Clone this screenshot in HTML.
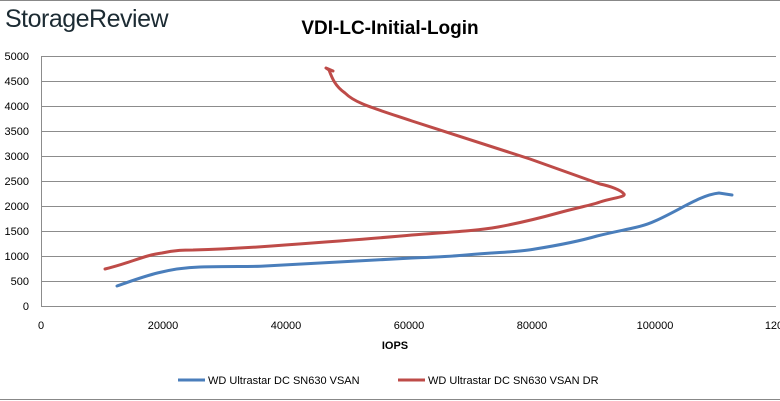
<!DOCTYPE html>
<html><head><style>
body{margin:0;background:#fff;}
svg{display:block;font-family:"Liberation Sans",sans-serif;}
</style></head><body>
<svg width="780" height="401" viewBox="0 0 780 401">
<rect x="0" y="0" width="780" height="401" fill="#fff"/>
<line x1="0" y1="0.5" x2="780" y2="0.5" stroke="#888"/>
<line x1="0" y1="399.5" x2="780" y2="399.5" stroke="#888"/>
<text x="5" y="27" font-size="25" fill="#1c2b33" letter-spacing="-0.5">StorageReview</text>
<text x="390" y="34" font-size="19" font-weight="bold" text-anchor="middle" fill="#000">VDI-LC-Initial-Login</text>
<g stroke="#8c8c8c" stroke-width="1">
<line x1="41" y1="56.5" x2="776" y2="56.5"/>
<line x1="41" y1="81.5" x2="776" y2="81.5"/>
<line x1="41" y1="106.5" x2="776" y2="106.5"/>
<line x1="41" y1="131.5" x2="776" y2="131.5"/>
<line x1="41" y1="156.5" x2="776" y2="156.5"/>
<line x1="41" y1="181.5" x2="776" y2="181.5"/>
<line x1="41" y1="206.5" x2="776" y2="206.5"/>
<line x1="41" y1="231.5" x2="776" y2="231.5"/>
<line x1="41" y1="256.5" x2="776" y2="256.5"/>
<line x1="41" y1="281.5" x2="776" y2="281.5"/>
<line x1="41" y1="306.5" x2="776" y2="306.5"/>
<line x1="41.5" y1="56" x2="41.5" y2="306"/>
</g>
<g font-size="11" fill="#000" text-anchor="end">
<text x="29" y="60">5000</text><text x="29" y="85">4500</text><text x="29" y="110">4000</text>
<text x="29" y="135">3500</text><text x="29" y="160">3000</text><text x="29" y="185">2500</text>
<text x="29" y="210">2000</text><text x="29" y="235">1500</text><text x="29" y="260">1000</text>
<text x="29" y="285">500</text><text x="29" y="310">0</text>
</g>
<g font-size="11" fill="#000" text-anchor="middle">
<text x="41" y="329">0</text><text x="163" y="329">20000</text><text x="286" y="329">40000</text>
<text x="409" y="329">60000</text><text x="532" y="329">80000</text><text x="655" y="329">100000</text>
<text x="774" y="329">120</text>
</g>
<text x="395" y="349" font-size="11" font-weight="bold" text-anchor="middle">IOPS</text>
<path d="M117,286 C140,278 165,268 200,267 C230,266 250,267 265,266 C330,262 380,260 412,258 C440,257 455,256 466,255 C500,252 520,252 535,249 C560,245 580,241 597,236 C625,229 640,228 655,221 C680,210 700,195 719,193 L732,195" fill="none" stroke="#4a7ebb" stroke-width="3" stroke-linecap="round"/>
<path d="M105,269 C130,263 145,255 162,253 C175,250 185,250 193,250 C230,249 260,247 285,245 C340,241 380,238 412,235 C450,232 475,231 498,227 C525,222 540,218 558,213 C580,207 592,205 600,202 C612,198 626,197 624,194 C621,190 610,186 600,184 L530,159 L412,121 C370,107 355,103 345,93 C335,86 332,78 329,70 L326,68 L333,71" fill="none" stroke="#be4b48" stroke-width="3" stroke-linecap="round" stroke-linejoin="round"/>
<line x1="178" y1="380" x2="205" y2="380" stroke="#4a7ebb" stroke-width="3"/>
<text x="208" y="384" font-size="11">WD Ultrastar DC SN630 VSAN</text>
<line x1="398" y1="380" x2="425" y2="380" stroke="#be4b48" stroke-width="3"/>
<text x="428" y="384" font-size="11">WD Ultrastar DC SN630 VSAN DR</text>
</svg>
</body></html>
